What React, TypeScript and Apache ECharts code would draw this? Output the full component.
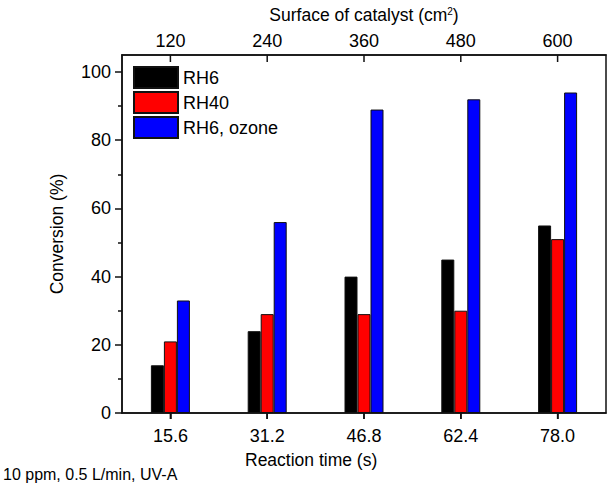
import React, { useEffect, useRef } from "react";
import * as echarts from "echarts";

const timeCategories = ["15.6", "31.2", "46.8", "62.4", "78.0"];
const surfaceCategories = ["120", "240", "360", "480", "600"];
const rh6 = [14, 24, 40, 45, 55];
const rh40 = [21, 29, 29, 30, 51];
const rh6Ozone = [33, 56, 89, 92, 94];
const yLabelValues = [0, 20, 40, 60, 80, 100];
const yMinorValues = [10, 30, 50, 70, 90];
const Y_MAX = 105;

const FONT = "Liberation Sans, Arial, sans-serif";

export default function App() {
  const ref = useRef<HTMLDivElement>(null);
  useEffect(() => {
    if (!ref.current) return;
    const chart = echarts.init(ref.current, null, { renderer: "svg" });
    const barStyle = (color: string) => ({
      color,
      borderColor: "#111",
      borderWidth: 1,
    });
    chart.setOption({
      animation: false,
      backgroundColor: "#fff",
      textStyle: { fontFamily: FONT, color: "#000" },
      grid: {
        left: 122,
        right: 5,
        top: 55,
        bottom: 80,
        containLabel: false,
        outerBoundsMode: "none",
        show: true,
        borderColor: "#111",
        borderWidth: 1.5,
        backgroundColor: "transparent",
      },
      legend: {
        orient: "vertical",
        left: 133,
        top: 66,
        icon: "rect",
        itemWidth: 44,
        itemHeight: 21,
        itemGap: 2,
        padding: 0,
        textStyle: { fontFamily: FONT, fontSize: 18, color: "#000" },
        data: ["RH6", "RH40", "RH6, ozone"],
      },
      xAxis: [
        {
          type: "category",
          data: timeCategories,
          position: "bottom",
          axisLine: { show: true, onZero: false, lineStyle: { color: "#111", width: 1.5 } },
          axisTick: { show: true, alignWithLabel: true, length: 6, lineStyle: { color: "#111", width: 1.5 } },
          axisLabel: { fontFamily: FONT, fontSize: 18, color: "#000", margin: 14 },
          splitLine: { show: false },
        },
        {
          type: "category",
          data: surfaceCategories,
          position: "top",
          name: "Surface of catalyst (cm{sup|2})",
          nameLocation: "middle",
          nameGap: 31,
          nameTextStyle: {
            fontFamily: FONT,
            fontSize: 17.5,
            color: "#000",
            rich: { sup: { fontFamily: FONT, fontSize: 10, color: "#000", verticalAlign: "top", padding: [0, 0, 8, 0] } },
          },
          axisLine: { show: true, onZero: false, lineStyle: { color: "#111", width: 1.5 } },
          axisTick: { show: false },
          axisLabel: { fontFamily: FONT, fontSize: 18, color: "#000", margin: 5 },
          splitLine: { show: false },
        },
      ],
      yAxis: [
        {
          type: "value",
          min: 0,
          max: Y_MAX,
          interval: 20,
          name: "Conversion (%)",
          nameLocation: "middle",
          nameGap: 56,
          nameTextStyle: { fontFamily: FONT, fontSize: 17.5, color: "#000" },
          axisLine: { show: true, onZero: false, lineStyle: { color: "#111", width: 1.5 } },
          axisTick: { show: true, length: 7, customValues: yLabelValues, lineStyle: { color: "#111", width: 1.5 } },
          axisLabel: { fontFamily: FONT, fontSize: 18, color: "#000", margin: 11, customValues: yLabelValues },
          splitLine: { show: false },
        },
        {
          type: "value",
          min: 0,
          max: Y_MAX,
          interval: 20,
          position: "left",
          axisLine: { show: false, onZero: false },
          axisTick: { show: true, length: 4, customValues: yMinorValues, lineStyle: { color: "#111", width: 1.5 } },
          axisLabel: { show: false },
          splitLine: { show: false },
        },
      ],
      graphic: [
        {
          type: "text",
          left: 245,
          top: 451,
          style: { text: "Reaction time (s)", font: `17.5px ${FONT}`, fill: "#000" },
        },
        {
          type: "text",
          left: 3,
          top: 466,
          style: { text: "10 ppm, 0.5 L/min, UV-A", font: `16px ${FONT}`, fill: "#000" },
        },
      ],
      series: [
        { name: "RH6", type: "bar", data: rh6, barWidth: 13, barGap: "0%", itemStyle: barStyle("#000000") },
        { name: "RH40", type: "bar", data: rh40, barWidth: 13, barGap: "0%", itemStyle: barStyle("#ff0000") },
        { name: "RH6, ozone", type: "bar", data: rh6Ozone, barWidth: 13, barGap: "0%", itemStyle: barStyle("#0000ff") },
        {
          name: "xticks",
          type: "custom",
          clip: false,
          silent: true,
          z: 10,
          data: timeCategories.map((_, i) => [i]),
          renderItem: (_params: any, api: any) => {
            const idx = api.value(0);
            const bottom = api.coord([idx, 0]);
            const top = api.coord([idx, Y_MAX]);
            const style = { stroke: "#111", lineWidth: 1.5 };
            return {
              type: "group",
              children: [
                { type: "line", shape: { x1: bottom[0], y1: bottom[1], x2: bottom[0], y2: bottom[1] + 6 }, style },
                { type: "line", shape: { x1: top[0], y1: top[1], x2: top[0], y2: top[1] + 7 }, style },
              ],
            };
          },
        },
      ],
    });
    return () => chart.dispose();
  }, []);
  return <div ref={ref} style={{ width: 611, height: 493, position: "absolute", left: 0, top: 0 }} />;
}
